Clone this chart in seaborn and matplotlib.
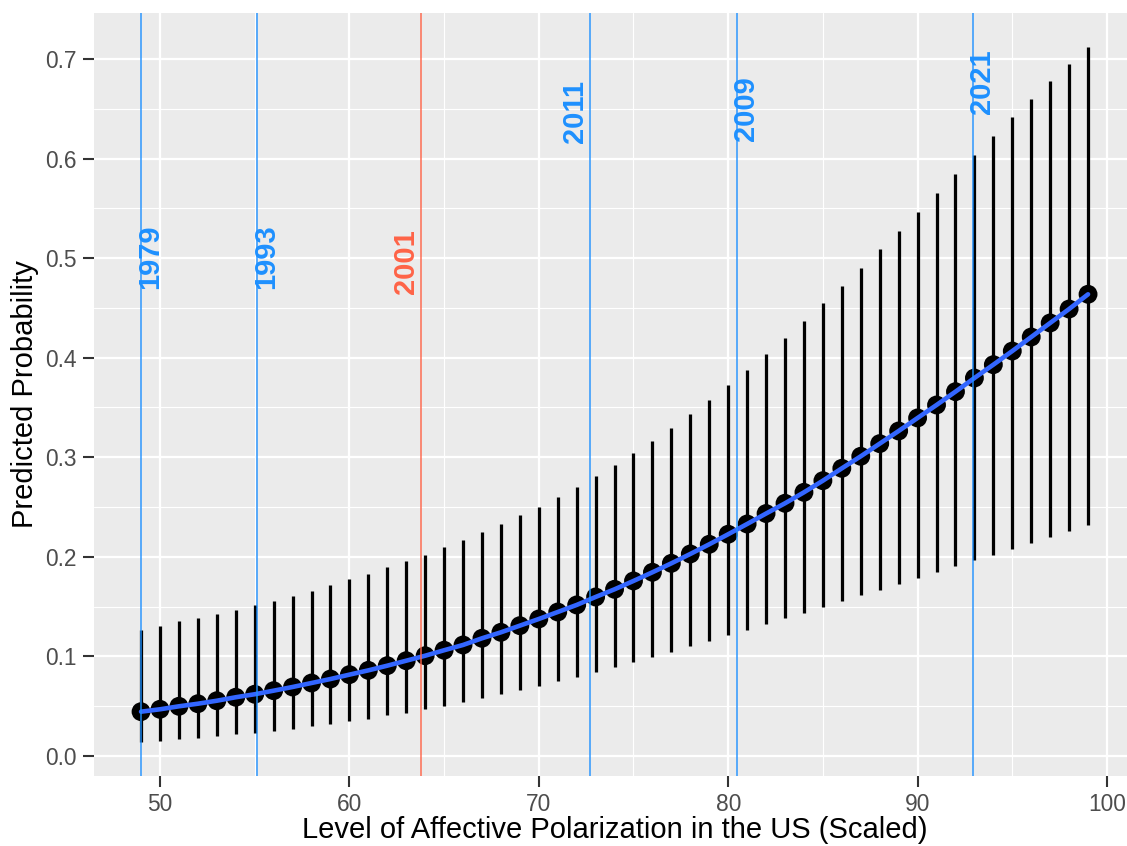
import matplotlib
matplotlib.use("Agg")
import matplotlib.pyplot as plt
import pandas as pd
import seaborn as sns

# Predicted probabilities across the scaled affective-polarization range
polarization = [49, 50, 51, 52, 53, 54, 55, 56, 57, 58, 59, 60, 61, 62, 63, 64, 65,
                66, 67, 68, 69, 70, 71, 72, 73, 74, 75, 76, 77, 78, 79, 80, 81, 82,
                83, 84, 85, 86, 87, 88, 89, 90, 91, 92, 93, 94, 95, 96, 97, 98, 99]

pred_prob = [0.0445, 0.0469, 0.0499, 0.0525, 0.0555, 0.0590, 0.0620, 0.0656, 0.0693,
             0.0733, 0.0773, 0.0817, 0.0860, 0.0907, 0.0957, 0.1007, 0.1062, 0.1115,
             0.1182, 0.1242, 0.1309, 0.1376, 0.1446, 0.1517, 0.1597, 0.1674, 0.1758,
             0.1845, 0.1935, 0.2029, 0.2126, 0.2227, 0.2330, 0.2435, 0.2538, 0.2648,
             0.2765, 0.2889, 0.3010, 0.3137, 0.3264, 0.3395, 0.3525, 0.3659, 0.3796,
             0.3930, 0.4067, 0.4208, 0.4349, 0.4489, 0.4637]

ci_low = [0.0144, 0.0154, 0.0168, 0.0184, 0.0201, 0.0218, 0.0234, 0.0254, 0.0274,
          0.0298, 0.0324, 0.0348, 0.0374, 0.0408, 0.0435, 0.0469, 0.0505, 0.0542,
          0.0579, 0.0620, 0.0660, 0.0703, 0.0750, 0.0797, 0.0847, 0.0897, 0.0944,
          0.0997, 0.1047, 0.1102, 0.1158, 0.1212, 0.1269, 0.1325, 0.1383, 0.1436,
          0.1496, 0.1553, 0.1614, 0.1667, 0.1727, 0.1788, 0.1845, 0.1905, 0.1965,
          0.2022, 0.2082, 0.2142, 0.2203, 0.2263, 0.2323]

ci_high = [0.1270, 0.1310, 0.1356, 0.1390, 0.1430, 0.1470, 0.1520, 0.1560, 0.1610,
           0.1660, 0.1720, 0.1775, 0.1830, 0.1895, 0.1960, 0.2020, 0.2096, 0.2166,
           0.2247, 0.2327, 0.2417, 0.2504, 0.2601, 0.2705, 0.2809, 0.2923, 0.3043,
           0.3164, 0.3297, 0.3435, 0.3572, 0.3723, 0.3880, 0.4037, 0.4201, 0.4372,
           0.4546, 0.4723, 0.4904, 0.5089, 0.5276, 0.5467, 0.5657, 0.5845, 0.6036,
           0.6227, 0.6414, 0.6595, 0.6776, 0.6950, 0.7117]

# Observed polarization level in selected years
event_years = ["1979", "1993", "2001", "2011", "2009", "2021"]
event_level = [49.01, 55.11, 63.78, 72.72, 80.45, 92.94]

# Label styling per year: colour, side of the line, label height
event_colors = ["#1E90FF", "#1E90FF", "#FF6347", "#1E90FF", "#1E90FF", "#1E90FF"]
event_side = ["right", "right", "left", "left", "right", "right"]
label_y = [0.501, 0.501, 0.497, 0.647, 0.650, 0.677]

df = pd.DataFrame({"x": polarization, "p": pred_prob, "lo": ci_low, "hi": ci_high})

sns.set_theme(style="darkgrid")
plt.rcParams["font.family"] = ["Liberation Sans", "DejaVu Sans"]

W, H, DPI = 1127, 846, 150
fig = plt.figure(figsize=(W / DPI, H / DPI), dpi=DPI)
fig.patch.set_facecolor("white")

left_px, right_px, top_px, bottom_px = 93.7, 1135.4, 12.6, 776.4
ax = fig.add_axes([left_px / W, 1 - bottom_px / H,
                   (right_px - left_px) / W, (bottom_px - top_px) / H])
ax.set_facecolor("#EBEBEB")

# Confidence intervals, point estimates and connecting curve
ax.vlines(df["x"], df["lo"], df["hi"], color="black", lw=1.55, zorder=2)
sns.scatterplot(data=df, x="x", y="p", color="black", s=82, edgecolor="none",
                linewidth=0, zorder=3, ax=ax, legend=False)
sns.lineplot(data=df, x="x", y="p", color="#3366FF", lw=2.2, zorder=4, ax=ax)

# Reference lines for individual years
for yr, lev, col, side, ly in zip(event_years, event_level, event_colors,
                                  event_side, label_y):
    ax.axvline(lev, color=col, lw=0.85, alpha=0.8, zorder=5)
    if side == "right":
        ax.annotate(yr, xy=(lev, ly), xytext=(-2.4, 0), textcoords="offset points",
                    rotation=90, ha="left", va="center", color=col,
                    fontsize=14, fontweight="bold", zorder=6)
    else:
        ax.annotate(yr, xy=(lev, ly), xytext=(-0.4, 0), textcoords="offset points",
                    rotation=90, ha="right", va="center", color=col,
                    fontsize=14, fontweight="bold", zorder=6)

ax.set_xlim(46.5, 101.5)
ax.set_ylim(-0.0205, 0.7466)

ax.set_xticks([50, 60, 70, 80, 90, 100])
ax.set_xticks([55, 65, 75, 85, 95], minor=True)
ax.set_yticks([0.0, 0.1, 0.2, 0.3, 0.4, 0.5, 0.6, 0.7])
ax.set_yticks([0.05, 0.15, 0.25, 0.35, 0.45, 0.55, 0.65], minor=True)
ax.set_yticklabels(["0.0", "0.1", "0.2", "0.3", "0.4", "0.5", "0.6", "0.7"])

ax.grid(which="major", color="white", lw=1.1)
ax.grid(which="minor", color="white", lw=0.55)
ax.set_axisbelow(True)
for s in ax.spines.values():
    s.set_visible(False)

ax.tick_params(which="major", length=5.5, width=1.0, color="#333333",
               labelsize=10.9, labelcolor="#4D4D4D", pad=2.5,
               bottom=True, left=True)
ax.tick_params(which="minor", length=0)

ax.set_xlabel("Level of Affective Polarization in the US (Scaled)",
              fontsize=14, color="black")
ax.set_ylabel("Predicted Probability", fontsize=14, color="black")
ax.xaxis.set_label_coords(0.5, (bottom_px - 830) / (bottom_px - top_px))
ax.xaxis.label.set_verticalalignment("center")
ax.yaxis.set_label_coords((25 - left_px) / (right_px - left_px), 0.5)
ax.yaxis.label.set_verticalalignment("center")

fig.savefig("out.png", dpi=DPI)
